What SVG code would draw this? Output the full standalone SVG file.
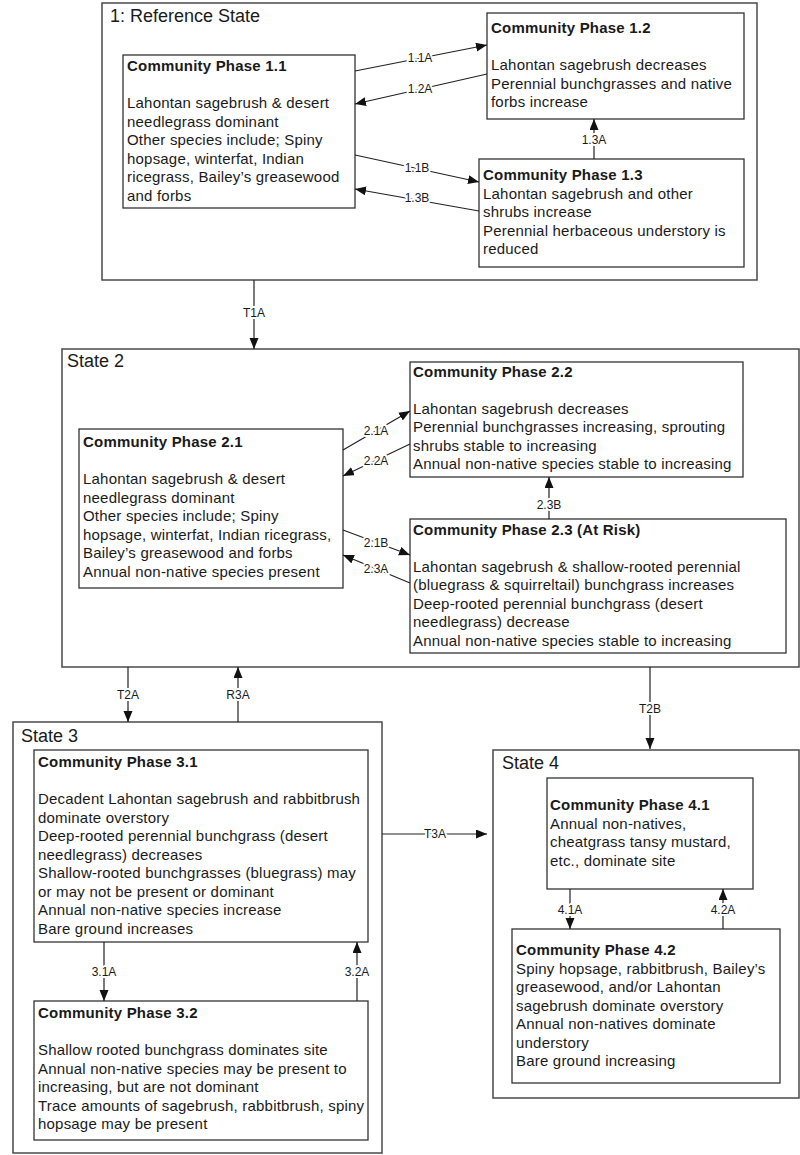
<svg xmlns="http://www.w3.org/2000/svg" width="800" height="1155" viewBox="0 0 800 1155">
<defs>
<style>
.state{fill:#fff;stroke:#4a4a4a;stroke-width:1.5}
.phase{fill:#fff;stroke:#333;stroke-width:1.3}
text{font-family:"Liberation Sans",Arial,sans-serif;fill:#1a1a1a}
.st{font-size:18px}
.t{font-size:15px;font-weight:bold;letter-spacing:0.2px}
.b{font-size:15px;letter-spacing:0.2px}
.lbl{font-size:12px;text-anchor:middle;stroke:#fff;stroke-width:4px;paint-order:stroke;stroke-linejoin:round}
.c{fill:none;stroke:#222;stroke-width:1.2;marker-end:url(#ah)}
</style>
<marker id="ah" markerUnits="userSpaceOnUse" markerWidth="12" markerHeight="10" refX="11" refY="4.5" orient="auto">
<path d="M0,0 L11,4.5 L0,9 z" fill="#111"/>
</marker>
</defs>
<rect width="800" height="1155" fill="#fff"/>

<g id="state1">
<rect class="state" x="102" y="3" width="655" height="277"/>
<text class="st" x="110" y="22">1: Reference State</text>
</g>
<g id="state2">
<rect class="state" x="62" y="349" width="737" height="318"/>
<text class="st" x="67" y="367">State 2</text>
</g>
<g id="state3">
<rect class="state" x="13" y="722" width="369" height="431"/>
<text class="st" x="21" y="742">State 3</text>
</g>
<g id="state4">
<rect class="state" x="493" y="750" width="306" height="348"/>
<text class="st" x="502" y="769">State 4</text>
</g>

<g id="cp11">
<rect class="phase" x="123" y="55" width="232" height="153"/>
<text class="t" x="127" y="71">Community Phase 1.1</text>
<text class="b" x="127" y="108">Lahontan sagebrush &amp; desert</text>
<text class="b" x="127" y="126.5">needlegrass dominant</text>
<text class="b" x="127" y="145">Other species include; Spiny</text>
<text class="b" x="127" y="163.5">hopsage, winterfat, Indian</text>
<text class="b" x="127" y="182">ricegrass, Bailey’s greasewood</text>
<text class="b" x="127" y="200.5">and forbs</text>
</g>
<g id="cp12">
<rect class="phase" x="487" y="13" width="257" height="106"/>
<text class="t" x="491" y="33">Community Phase 1.2</text>
<text class="b" x="491" y="70">Lahontan sagebrush decreases</text>
<text class="b" x="491" y="88.5">Perennial bunchgrasses and native</text>
<text class="b" x="491" y="107">forbs increase</text>
</g>
<g id="cp13">
<rect class="phase" x="479" y="159" width="265" height="108"/>
<text class="t" x="483" y="180">Community Phase 1.3</text>
<text class="b" x="483" y="198.5">Lahontan sagebrush and other</text>
<text class="b" x="483" y="217">shrubs increase</text>
<text class="b" x="483" y="235.5">Perennial herbaceous understory is</text>
<text class="b" x="483" y="254">reduced</text>
</g>

<g id="cp21">
<rect class="phase" x="79" y="429" width="264" height="159"/>
<text class="t" x="83" y="447">Community Phase 2.1</text>
<text class="b" x="83" y="484">Lahontan sagebrush &amp; desert</text>
<text class="b" x="83" y="502.5">needlegrass dominant</text>
<text class="b" x="83" y="521">Other species include; Spiny</text>
<text class="b" x="83" y="539.5">hopsage, winterfat, Indian ricegrass,</text>
<text class="b" x="83" y="558">Bailey’s greasewood and forbs</text>
<text class="b" x="83" y="576.5">Annual non-native species present</text>
</g>
<g id="cp22">
<rect class="phase" x="410" y="362" width="333" height="115"/>
<text class="t" x="413" y="377">Community Phase 2.2</text>
<text class="b" x="413" y="413.5">Lahontan sagebrush decreases</text>
<text class="b" x="413" y="432">Perennial bunchgrasses increasing, sprouting</text>
<text class="b" x="413" y="450.5">shrubs stable to increasing</text>
<text class="b" x="413" y="469">Annual non-native species stable to increasing</text>
</g>
<g id="cp23">
<rect class="phase" x="410" y="519" width="376" height="134"/>
<text class="t" x="413" y="535">Community Phase 2.3 (At Risk)</text>
<text class="b" x="413" y="571.5">Lahontan sagebrush &amp; shallow-rooted perennial</text>
<text class="b" x="413" y="590">(bluegrass &amp; squirreltail) bunchgrass increases</text>
<text class="b" x="413" y="608.5">Deep-rooted perennial bunchgrass (desert</text>
<text class="b" x="413" y="627">needlegrass) decrease</text>
<text class="b" x="413" y="645.5">Annual non-native species stable to increasing</text>
</g>

<g id="cp31">
<rect class="phase" x="34" y="750" width="334" height="192"/>
<text class="t" x="38" y="767">Community Phase 3.1</text>
<text class="b" x="38" y="804">Decadent Lahontan sagebrush and rabbitbrush</text>
<text class="b" x="38" y="822.5">dominate overstory</text>
<text class="b" x="38" y="841">Deep-rooted perennial bunchgrass (desert</text>
<text class="b" x="38" y="859.5">needlegrass) decreases</text>
<text class="b" x="38" y="878">Shallow-rooted bunchgrasses (bluegrass) may</text>
<text class="b" x="38" y="896.5">or may not be present or dominant</text>
<text class="b" x="38" y="915">Annual non-native species increase</text>
<text class="b" x="38" y="933.5">Bare ground increases</text>
</g>
<g id="cp32">
<rect class="phase" x="34" y="1001" width="334" height="139"/>
<text class="t" x="38" y="1018">Community Phase 3.2</text>
<text class="b" x="38" y="1055">Shallow rooted bunchgrass dominates site</text>
<text class="b" x="38" y="1073.5">Annual non-native species may be present to</text>
<text class="b" x="38" y="1092">increasing, but are not dominant</text>
<text class="b" x="38" y="1110.5">Trace amounts of sagebrush, rabbitbrush, spiny</text>
<text class="b" x="38" y="1129">hopsage may be present</text>
</g>

<g id="cp41">
<rect class="phase" x="547" y="778" width="206" height="111"/>
<text class="t" x="550" y="810">Community Phase 4.1</text>
<text class="b" x="550" y="828.5">Annual non-natives,</text>
<text class="b" x="550" y="847">cheatgrass tansy mustard,</text>
<text class="b" x="550" y="865.5">etc., dominate site</text>
</g>
<g id="cp42">
<rect class="phase" x="512" y="929" width="268" height="154"/>
<text class="t" x="516" y="955">Community Phase 4.2</text>
<text class="b" x="516" y="973.5">Spiny hopsage, rabbitbrush, Bailey’s</text>
<text class="b" x="516" y="992">greasewood, and/or Lahontan</text>
<text class="b" x="516" y="1010.5">sagebrush dominate overstory</text>
<text class="b" x="516" y="1029">Annual non-natives dominate</text>
<text class="b" x="516" y="1047.5">understory</text>
<text class="b" x="516" y="1066">Bare ground increasing</text>
</g>

<g id="connectors">
<line class="c" x1="355" y1="71" x2="487" y2="45"/>
<line class="c" x1="487" y1="74" x2="355" y2="104"/>
<line class="c" x1="355" y1="155" x2="479" y2="182"/>
<line class="c" x1="479" y1="211" x2="355" y2="189"/>
<line class="c" x1="594" y1="159" x2="594" y2="119"/>
<line class="c" x1="254" y1="280" x2="254" y2="349"/>
<line class="c" x1="343" y1="450" x2="410" y2="411"/>
<line class="c" x1="410" y1="444" x2="343" y2="476"/>
<line class="c" x1="343" y1="530" x2="410" y2="555"/>
<line class="c" x1="410" y1="583" x2="343" y2="555"/>
<line class="c" x1="549" y1="519" x2="549" y2="477"/>
<line class="c" x1="128" y1="667" x2="128" y2="722"/>
<line class="c" x1="238" y1="722" x2="238" y2="667"/>
<line class="c" x1="650" y1="667" x2="650" y2="749"/>
<line class="c" x1="104" y1="942" x2="104" y2="1001"/>
<line class="c" x1="357" y1="1001" x2="357" y2="942"/>
<line class="c" x1="382" y1="834" x2="487" y2="834"/>
<line class="c" x1="570" y1="889" x2="570" y2="929"/>
<line class="c" x1="723" y1="929" x2="723" y2="889"/>
<text class="lbl" x="420" y="62">1.1A</text>
<text class="lbl" x="420" y="93">1.2A</text>
<text class="lbl" x="417" y="172">1.1B</text>
<text class="lbl" x="417" y="202">1.3B</text>
<text class="lbl" x="594" y="144">1.3A</text>
<text class="lbl" x="254" y="317">T1A</text>
<text class="lbl" x="376" y="435">2.1A</text>
<text class="lbl" x="376" y="465">2.2A</text>
<text class="lbl" x="376" y="547">2.1B</text>
<text class="lbl" x="376" y="573">2.3A</text>
<text class="lbl" x="549" y="509">2.3B</text>
<text class="lbl" x="128" y="699">T2A</text>
<text class="lbl" x="238" y="699">R3A</text>
<text class="lbl" x="650" y="713">T2B</text>
<text class="lbl" x="104" y="976">3.1A</text>
<text class="lbl" x="357" y="976">3.2A</text>
<text class="lbl" x="435" y="838">T3A</text>
<text class="lbl" x="570" y="914">4.1A</text>
<text class="lbl" x="723" y="914">4.2A</text>
</g>
</svg>
